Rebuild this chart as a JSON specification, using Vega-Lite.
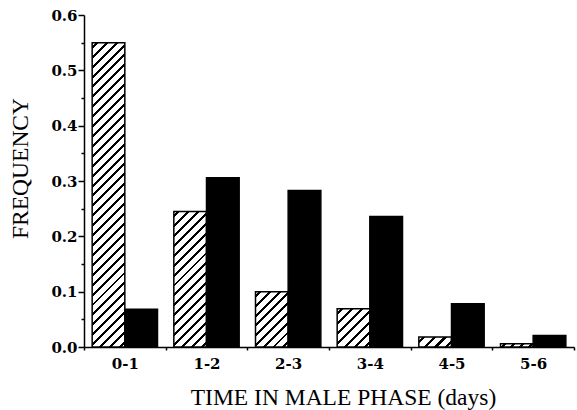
{
  "$schema": "https://vega.github.io/schema/vega-lite/v6.json",
  "autosize": "none",
  "padding": {"left": 84, "top": 15, "right": 3, "bottom": 63},
  "width": 490,
  "height": 332,
  "background": "white",
  "config": {"view": {"stroke": null}},
  "data": {
    "values": [
      {"cat": "0-1", "group": "hatched", "value": 0.55},
      {"cat": "0-1", "group": "solid", "value": 0.068},
      {"cat": "1-2", "group": "hatched", "value": 0.245},
      {"cat": "1-2", "group": "solid", "value": 0.306},
      {"cat": "2-3", "group": "hatched", "value": 0.10},
      {"cat": "2-3", "group": "solid", "value": 0.283},
      {"cat": "3-4", "group": "hatched", "value": 0.069},
      {"cat": "3-4", "group": "solid", "value": 0.236},
      {"cat": "4-5", "group": "hatched", "value": 0.018},
      {"cat": "4-5", "group": "solid", "value": 0.078},
      {"cat": "5-6", "group": "hatched", "value": 0.006},
      {"cat": "5-6", "group": "solid", "value": 0.021}
    ]
  },
  "mark": {"type": "bar", "stroke": "black", "strokeWidth": 1.5},
  "encoding": {
    "x": {
      "field": "cat",
      "type": "nominal",
      "sort": null,
      "scale": {"paddingInner": 0, "paddingOuter": 0},
      "axis": {
        "title": "TIME IN MALE PHASE (days)",
        "labelAngle": 0,
        "tickBand": "extent",
        "tickSize": 3,
        "tickWidth": 1.5,
        "tickColor": "black",
        "domainWidth": 1.5,
        "domainColor": "black",
        "labelFont": "DejaVu Serif",
        "labelFontSize": 15,
        "labelFontWeight": "bold",
        "labelColor": "black",
        "labelPadding": 6,
        "titleFont": "Liberation Serif",
        "titleFontSize": 23.5,
        "titleFontWeight": "normal",
        "titleColor": "black",
        "titleX": 259,
        "titleY": 57,
        "titleAlign": "center",
        "titleBaseline": "alphabetic"
      }
    },
    "xOffset": {
      "field": "group",
      "type": "nominal",
      "scale": {"domain": ["hatched", "solid"], "paddingInner": 0, "paddingOuter": 0.25}
    },
    "y": {
      "field": "value",
      "type": "quantitative",
      "scale": {"domain": [0, 0.6], "nice": false},
      "axis": {
        "title": "FREQUENCY",
        "grid": false,
        "values": [0, 0.05, 0.1, 0.15, 0.2, 0.25, 0.3, 0.35, 0.4, 0.45, 0.5, 0.55, 0.6],
        "labelExpr": "round(datum.value*20) % 2 == 0 ? format(datum.value, '.1f') : ''",
        "tickSize": {"condition": {"test": "round(datum.value*20) % 2 == 0", "value": 6}, "value": 3},
        "tickWidth": 1.5,
        "tickColor": "black",
        "domainWidth": 1.5,
        "domainColor": "black",
        "labelFont": "DejaVu Serif",
        "labelFontSize": 15,
        "labelFontWeight": "bold",
        "labelColor": "black",
        "labelPadding": 1,
        "titleFont": "Liberation Serif",
        "titleFontSize": 23.5,
        "titleFontWeight": "normal",
        "titleColor": "black",
        "titleX": -57,
        "titleY": 153,
        "titleAlign": "center",
        "titleBaseline": "alphabetic",
        "titleAngle": -90
      }
    },
    "fill": {
      "condition": [
        {"test": "datum.group=='hatched' && datum.cat=='0-1'", "value": {"gradient": "linear", "x1": 0, "y1": 0, "x2": 0.11753, "y2": 1.09475, "stops": [
          {"offset":0.01029,"color":"white"},{"offset":0.01029,"color":"black"},{"offset":0.01912,"color":"black"},{"offset":0.01912,"color":"white"},
          {"offset":0.03971,"color":"white"},{"offset":0.03971,"color":"black"},{"offset":0.04853,"color":"black"},{"offset":0.04853,"color":"white"},
          {"offset":0.06912,"color":"white"},{"offset":0.06912,"color":"black"},{"offset":0.07794,"color":"black"},{"offset":0.07794,"color":"white"},
          {"offset":0.09853,"color":"white"},{"offset":0.09853,"color":"black"},{"offset":0.10735,"color":"black"},{"offset":0.10735,"color":"white"},
          {"offset":0.12794,"color":"white"},{"offset":0.12794,"color":"black"},{"offset":0.13676,"color":"black"},{"offset":0.13676,"color":"white"},
          {"offset":0.15735,"color":"white"},{"offset":0.15735,"color":"black"},{"offset":0.16618,"color":"black"},{"offset":0.16618,"color":"white"},
          {"offset":0.18676,"color":"white"},{"offset":0.18676,"color":"black"},{"offset":0.19559,"color":"black"},{"offset":0.19559,"color":"white"},
          {"offset":0.21618,"color":"white"},{"offset":0.21618,"color":"black"},{"offset":0.22500,"color":"black"},{"offset":0.22500,"color":"white"},
          {"offset":0.24559,"color":"white"},{"offset":0.24559,"color":"black"},{"offset":0.25441,"color":"black"},{"offset":0.25441,"color":"white"},
          {"offset":0.27500,"color":"white"},{"offset":0.27500,"color":"black"},{"offset":0.28382,"color":"black"},{"offset":0.28382,"color":"white"},
          {"offset":0.30441,"color":"white"},{"offset":0.30441,"color":"black"},{"offset":0.31324,"color":"black"},{"offset":0.31324,"color":"white"},
          {"offset":0.33382,"color":"white"},{"offset":0.33382,"color":"black"},{"offset":0.34265,"color":"black"},{"offset":0.34265,"color":"white"},
          {"offset":0.36324,"color":"white"},{"offset":0.36324,"color":"black"},{"offset":0.37206,"color":"black"},{"offset":0.37206,"color":"white"},
          {"offset":0.39265,"color":"white"},{"offset":0.39265,"color":"black"},{"offset":0.40147,"color":"black"},{"offset":0.40147,"color":"white"},
          {"offset":0.42206,"color":"white"},{"offset":0.42206,"color":"black"},{"offset":0.43088,"color":"black"},{"offset":0.43088,"color":"white"},
          {"offset":0.45147,"color":"white"},{"offset":0.45147,"color":"black"},{"offset":0.46029,"color":"black"},{"offset":0.46029,"color":"white"},
          {"offset":0.48088,"color":"white"},{"offset":0.48088,"color":"black"},{"offset":0.48971,"color":"black"},{"offset":0.48971,"color":"white"},
          {"offset":0.51029,"color":"white"},{"offset":0.51029,"color":"black"},{"offset":0.51912,"color":"black"},{"offset":0.51912,"color":"white"},
          {"offset":0.53971,"color":"white"},{"offset":0.53971,"color":"black"},{"offset":0.54853,"color":"black"},{"offset":0.54853,"color":"white"},
          {"offset":0.56912,"color":"white"},{"offset":0.56912,"color":"black"},{"offset":0.57794,"color":"black"},{"offset":0.57794,"color":"white"},
          {"offset":0.59853,"color":"white"},{"offset":0.59853,"color":"black"},{"offset":0.60735,"color":"black"},{"offset":0.60735,"color":"white"},
          {"offset":0.62794,"color":"white"},{"offset":0.62794,"color":"black"},{"offset":0.63676,"color":"black"},{"offset":0.63676,"color":"white"},
          {"offset":0.65735,"color":"white"},{"offset":0.65735,"color":"black"},{"offset":0.66618,"color":"black"},{"offset":0.66618,"color":"white"},
          {"offset":0.68676,"color":"white"},{"offset":0.68676,"color":"black"},{"offset":0.69559,"color":"black"},{"offset":0.69559,"color":"white"},
          {"offset":0.71618,"color":"white"},{"offset":0.71618,"color":"black"},{"offset":0.72500,"color":"black"},{"offset":0.72500,"color":"white"},
          {"offset":0.74559,"color":"white"},{"offset":0.74559,"color":"black"},{"offset":0.75441,"color":"black"},{"offset":0.75441,"color":"white"},
          {"offset":0.77500,"color":"white"},{"offset":0.77500,"color":"black"},{"offset":0.78382,"color":"black"},{"offset":0.78382,"color":"white"},
          {"offset":0.80441,"color":"white"},{"offset":0.80441,"color":"black"},{"offset":0.81324,"color":"black"},{"offset":0.81324,"color":"white"},
          {"offset":0.83382,"color":"white"},{"offset":0.83382,"color":"black"},{"offset":0.84265,"color":"black"},{"offset":0.84265,"color":"white"},
          {"offset":0.86324,"color":"white"},{"offset":0.86324,"color":"black"},{"offset":0.87206,"color":"black"},{"offset":0.87206,"color":"white"},
          {"offset":0.89265,"color":"white"},{"offset":0.89265,"color":"black"},{"offset":0.90147,"color":"black"},{"offset":0.90147,"color":"white"},
          {"offset":0.92206,"color":"white"},{"offset":0.92206,"color":"black"},{"offset":0.93088,"color":"black"},{"offset":0.93088,"color":"white"},
          {"offset":0.95147,"color":"white"},{"offset":0.95147,"color":"black"},{"offset":0.96029,"color":"black"},{"offset":0.96029,"color":"white"},
          {"offset":0.98088,"color":"white"},{"offset":0.98088,"color":"black"},{"offset":0.98971,"color":"black"},{"offset":0.98971,"color":"white"}
        ]}},
        {"test": "datum.group=='hatched' && datum.cat=='1-2'", "value": {"gradient": "linear", "x1": 0, "y1": 0, "x2": 0.28258, "y2": 1.17286, "stops": [
          {"offset":0.02059,"color":"white"},{"offset":0.02059,"color":"black"},{"offset":0.03824,"color":"black"},{"offset":0.03824,"color":"white"},
          {"offset":0.07941,"color":"white"},{"offset":0.07941,"color":"black"},{"offset":0.09706,"color":"black"},{"offset":0.09706,"color":"white"},
          {"offset":0.13824,"color":"white"},{"offset":0.13824,"color":"black"},{"offset":0.15588,"color":"black"},{"offset":0.15588,"color":"white"},
          {"offset":0.19706,"color":"white"},{"offset":0.19706,"color":"black"},{"offset":0.21471,"color":"black"},{"offset":0.21471,"color":"white"},
          {"offset":0.25588,"color":"white"},{"offset":0.25588,"color":"black"},{"offset":0.27353,"color":"black"},{"offset":0.27353,"color":"white"},
          {"offset":0.31471,"color":"white"},{"offset":0.31471,"color":"black"},{"offset":0.33235,"color":"black"},{"offset":0.33235,"color":"white"},
          {"offset":0.37353,"color":"white"},{"offset":0.37353,"color":"black"},{"offset":0.39118,"color":"black"},{"offset":0.39118,"color":"white"},
          {"offset":0.43235,"color":"white"},{"offset":0.43235,"color":"black"},{"offset":0.45000,"color":"black"},{"offset":0.45000,"color":"white"},
          {"offset":0.49118,"color":"white"},{"offset":0.49118,"color":"black"},{"offset":0.50882,"color":"black"},{"offset":0.50882,"color":"white"},
          {"offset":0.55000,"color":"white"},{"offset":0.55000,"color":"black"},{"offset":0.56765,"color":"black"},{"offset":0.56765,"color":"white"},
          {"offset":0.60882,"color":"white"},{"offset":0.60882,"color":"black"},{"offset":0.62647,"color":"black"},{"offset":0.62647,"color":"white"},
          {"offset":0.66765,"color":"white"},{"offset":0.66765,"color":"black"},{"offset":0.68529,"color":"black"},{"offset":0.68529,"color":"white"},
          {"offset":0.72647,"color":"white"},{"offset":0.72647,"color":"black"},{"offset":0.74412,"color":"black"},{"offset":0.74412,"color":"white"},
          {"offset":0.78529,"color":"white"},{"offset":0.78529,"color":"black"},{"offset":0.80294,"color":"black"},{"offset":0.80294,"color":"white"},
          {"offset":0.84412,"color":"white"},{"offset":0.84412,"color":"black"},{"offset":0.86176,"color":"black"},{"offset":0.86176,"color":"white"},
          {"offset":0.90294,"color":"white"},{"offset":0.90294,"color":"black"},{"offset":0.92059,"color":"black"},{"offset":0.92059,"color":"white"},
          {"offset":0.96176,"color":"white"},{"offset":0.96176,"color":"black"},{"offset":0.97941,"color":"black"},{"offset":0.97941,"color":"white"}
        ]}},
        {"test": "datum.group=='hatched' && datum.cat=='2-3'", "value": {"gradient": "linear", "x1": 0, "y1": 0, "x2": 0.69634, "y2": 1.17931, "stops": [
          {"offset":0.03889,"color":"white"},{"offset":0.03889,"color":"black"},{"offset":0.07222,"color":"black"},{"offset":0.07222,"color":"white"},
          {"offset":0.15000,"color":"white"},{"offset":0.15000,"color":"black"},{"offset":0.18333,"color":"black"},{"offset":0.18333,"color":"white"},
          {"offset":0.26111,"color":"white"},{"offset":0.26111,"color":"black"},{"offset":0.29444,"color":"black"},{"offset":0.29444,"color":"white"},
          {"offset":0.37222,"color":"white"},{"offset":0.37222,"color":"black"},{"offset":0.40556,"color":"black"},{"offset":0.40556,"color":"white"},
          {"offset":0.48333,"color":"white"},{"offset":0.48333,"color":"black"},{"offset":0.51667,"color":"black"},{"offset":0.51667,"color":"white"},
          {"offset":0.59444,"color":"white"},{"offset":0.59444,"color":"black"},{"offset":0.62778,"color":"black"},{"offset":0.62778,"color":"white"},
          {"offset":0.70556,"color":"white"},{"offset":0.70556,"color":"black"},{"offset":0.73889,"color":"black"},{"offset":0.73889,"color":"white"},
          {"offset":0.81667,"color":"white"},{"offset":0.81667,"color":"black"},{"offset":0.85000,"color":"black"},{"offset":0.85000,"color":"white"},
          {"offset":0.92778,"color":"white"},{"offset":0.92778,"color":"black"},{"offset":0.96111,"color":"black"},{"offset":0.96111,"color":"white"}
        ]}},
        {"test": "datum.group=='hatched' && datum.cat=='3-4'", "value": {"gradient": "linear", "x1": 0, "y1": 0, "x2": 0.91669, "y2": 1.07130, "stops": [
          {"offset":0.05000,"color":"white"},{"offset":0.05000,"color":"black"},{"offset":0.09286,"color":"black"},{"offset":0.09286,"color":"white"},
          {"offset":0.19286,"color":"white"},{"offset":0.19286,"color":"black"},{"offset":0.23571,"color":"black"},{"offset":0.23571,"color":"white"},
          {"offset":0.33571,"color":"white"},{"offset":0.33571,"color":"black"},{"offset":0.37857,"color":"black"},{"offset":0.37857,"color":"white"},
          {"offset":0.47857,"color":"white"},{"offset":0.47857,"color":"black"},{"offset":0.52143,"color":"black"},{"offset":0.52143,"color":"white"},
          {"offset":0.62143,"color":"white"},{"offset":0.62143,"color":"black"},{"offset":0.66429,"color":"black"},{"offset":0.66429,"color":"white"},
          {"offset":0.76429,"color":"white"},{"offset":0.76429,"color":"black"},{"offset":0.80714,"color":"black"},{"offset":0.80714,"color":"white"},
          {"offset":0.90714,"color":"white"},{"offset":0.90714,"color":"black"},{"offset":0.95000,"color":"black"},{"offset":0.95000,"color":"white"}
        ]}},
        {"test": "datum.group=='hatched' && datum.cat=='4-5'", "value": {"gradient": "linear", "x1": 0, "y1": 0, "x2": 1.19393, "y2": 0.36399, "stops": [
          {"offset":0.0875,"color":"white"},{"offset":0.0875,"color":"black"},{"offset":0.1625,"color":"black"},{"offset":0.1625,"color":"white"},
          {"offset":0.3375,"color":"white"},{"offset":0.3375,"color":"black"},{"offset":0.4125,"color":"black"},{"offset":0.4125,"color":"white"},
          {"offset":0.5875,"color":"white"},{"offset":0.5875,"color":"black"},{"offset":0.6625,"color":"black"},{"offset":0.6625,"color":"white"},
          {"offset":0.8375,"color":"white"},{"offset":0.8375,"color":"black"},{"offset":0.9125,"color":"black"},{"offset":0.9125,"color":"white"}
        ]}},
        {"test": "datum.group=='hatched' && datum.cat=='5-6'", "value": {"gradient": "linear", "x1": 0, "y1": 0, "x2": 1.09042, "y2": 0.11081, "stops": [
          {"offset":0.0875,"color":"white"},{"offset":0.0875,"color":"black"},{"offset":0.1625,"color":"black"},{"offset":0.1625,"color":"white"},
          {"offset":0.3375,"color":"white"},{"offset":0.3375,"color":"black"},{"offset":0.4125,"color":"black"},{"offset":0.4125,"color":"white"},
          {"offset":0.5875,"color":"white"},{"offset":0.5875,"color":"black"},{"offset":0.6625,"color":"black"},{"offset":0.6625,"color":"white"},
          {"offset":0.8375,"color":"white"},{"offset":0.8375,"color":"black"},{"offset":0.9125,"color":"black"},{"offset":0.9125,"color":"white"}
        ]}}
      ],
      "value": "black"
    }
  }
}
